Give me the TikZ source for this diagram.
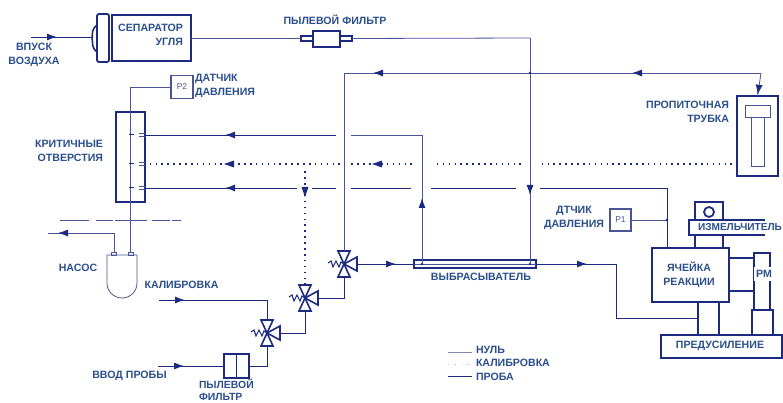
\documentclass[tikz,border=0pt]{standalone}
\usepackage{fontspec}
\setmainfont[BoldFont={Liberation Sans Bold}]{Liberation Sans}
\usetikzlibrary{arrows.meta,decorations.markings}
\definecolor{ink}{HTML}{1C2A80}
\definecolor{nullc}{HTML}{4A5496}
\definecolor{txt}{HTML}{2A4F8C}
\tikzset{
  lab/.style={font=\fontsize{10.6}{14}\selectfont\bfseries,text=txt,inner sep=0pt,outer sep=0pt},
  box/.style={draw=ink,line width=1.8pt,inner sep=0pt,outer sep=0pt},
  thinbox/.style={draw=nullc,line width=1pt,inner sep=0pt,outer sep=0pt},
  nullln/.style={draw=nullc,line width=.8pt},
  probe/.style={draw=ink,line width=.95pt},
  dotln/.style={draw=ink,line width=1.6pt,dash pattern=on 1.6pt off 4.3pt},
  tip/.style={postaction={decorate,decoration={markings,mark=at position #1 with {\arrow[ink]{Latex[length=10pt,width=7pt]}}}}}
}
\newcommand{\vlv}[3]{%
  \coordinate (#1) at (#2,#3);
  \coordinate (#1t) at (#2,#3-13);
  \coordinate (#1b) at (#2,#3+13);
  \coordinate (#1r) at (#2+13,#3);
  \draw[ink,line width=1.6pt,line join=miter] (#1) -- (#2-6,#3-13) -- (#2+6,#3-13) -- cycle;
  \draw[ink,line width=1.6pt] (#1) -- (#2-6,#3+13) -- (#2+6,#3+13) -- cycle;
  \draw[ink,line width=1.6pt] (#1) -- (#2+13,#3-7) -- (#2+13,#3+7) -- cycle;
  \draw[ink,line width=1.1pt] (#2-16,#3-1) -- (#2-13,#3-3) -- (#2-11,#3+3) -- (#2-8,#3-3) -- (#2-5,#3+3) -- (#2-3,#3-2) -- (#1);
}
\begin{document}
\begin{tikzpicture}[x=1pt,y=-1pt]
\useasboundingbox (0,0) rectangle (783,403);
% separator
\node[box,minimum width=79pt,minimum height=46pt] (sep) at (151.5,38) {};
\node[box,rounded corners=2pt,minimum width=12pt,minimum height=48pt] (flange) at (103,38) {};
\draw[ink,line width=1.6pt,rounded corners=2pt] (97,25) -- (93,29) -- (92,37) -- (93,48) -- (97,52);
\coordinate (air) at (31,37);
\coordinate (sepin) at (92,37);
\draw[probe,tip=26pt] (air) -- (sepin);
\node[lab,align=center] (airlab) at (34,55) {ВПУСК\\ВОЗДУХА};
\node[lab,align=right,anchor=east] (seplab) at (183,35) {СЕПАРАТОР\\УГЛЯ};
% filter top
\node[box,line width=1.4pt,minimum width=51pt,minimum height=5pt] (ftube) at (326.5,38.5) {};
\node[box,line width=1.4pt,fill=white,minimum width=27pt,minimum height=16pt] (fbody) at (326.5,39) {};
\node[lab] (ftoplab) at (335,20) {ПЫЛЕВОЙ ФИЛЬТР};
\coordinate (v530t) at (530,38);
% ejector
\node[box,line width=1.5pt,minimum width=122pt,minimum height=8pt] (ej) at (475,264) {};
\draw[nullc,line width=.7pt] (ej.west) -- (ej.east);
\node[lab] (ejlab) at (481,277) {ВЫБРАСЫВАТЕЛЬ};
\coordinate (ej422) at (422,264);
\coordinate (ej530) at (530,264);
\fill[ink] (ej422) circle (1.3) (ej530) circle (1.3);
\draw[nullln] (ftube.east) -- (v530t);
\draw[nullln] (sep.east |- ftube) -- (ftube.west);
\draw[nullln,tip=157pt] (v530t) -- (ej530);
% critical
\node[box,line width=1.5pt,minimum width=29pt,minimum height=90pt] (crit) at (130.5,157) {};
\node[lab,align=right,anchor=east] (critlab) at (103,151) {КРИТИЧНЫЕ\\ОТВЕРСТИЯ};
\node[thinbox,line width=1.5pt,minimum width=22pt,minimum height=23pt,font=\fontsize{8.5}{10}\selectfont,text=nullc] (p2) at (182,87) {P2};
\node[lab,align=left,anchor=west] (p2lab) at (195,86) {ДАТЧИК\\ДАВЛЕНИЯ};
% pump
\draw[nullc,line width=.8pt] (107,255) -- (137,255) -- (137,283) arc[start angle=0,end angle=180,radius=15] -- cycle;
\node[thinbox,line width=.8pt,minimum width=5pt,minimum height=3pt] (port1) at (114,253.5) {};
\node[thinbox,line width=.8pt,minimum width=5pt,minimum height=3pt] (port2) at (130.5,253.5) {};
\node[lab] (pumplab) at (78,268) {НАСОС};
\coordinate (c87) at (130.5,87);
\draw[nullln] (p2.west) -- (c87) -- (port2.north);
\coordinate (exh) at (48,233);
\coordinate (pcorner) at (114,233);
\draw[nullln,tip=75pt] (port1.north) -- (pcorner) -- (exh);
\draw[nullc,line width=.8pt,dash pattern=on 29pt off 7pt on 17pt off 2pt on 32pt off 5pt on 18pt off 2pt on 9pt off 100pt] (60,220) -- (181,220);
% orifice ticks
\foreach \yy in {135,164,188}{
  \draw[ink,line width=1pt] (129,\yy) -- (134,\yy);
  \draw[nullc,line width=.7pt] (139,\yy-1.2) -- (145,\yy-1.2) (139,\yy+1.2) -- (145,\yy+1.2);
}
% valves
\vlv{va}{267}{333}
\vlv{vb}{305}{298}
\vlv{vc}{344}{264}
\node[lab] (callab) at (181.5,285) {КАЛИБРОВКА};
\coordinate (calin) at (159,300);
\coordinate (calc) at (267,300);
\draw[probe,tip=26pt] (calin) -- (calc) -- (vat);
\node[lab] (samplab) at (129.5,376) {ВВОД ПРОБЫ};
\node[lab,font=\fontsize{10.4}{12}\selectfont\bfseries,align=left,anchor=north west] (pf2lab) at (199,379.5) {ПЫЛЕВОЙ\\ФИЛЬТР};
\node[box,minimum width=25pt,minimum height=24pt] (pf) at (236.5,366) {};
\draw[ink,line width=1.4pt] (pf.north) -- (pf.south);
\coordinate (sampin) at (158,366);
\coordinate (sampc) at (267,366);
\draw[probe,tip=26pt] (sampin) -- (pf.west);
\draw[probe] (pf.east) -- (sampc) -- (vab);
\coordinate (ab) at (305,333);
\draw[probe] (var) -- (ab) -- (vbb);
\coordinate (bc) at (344,298);
\draw[probe] (vbr) -- (bc) -- (vcb);
\draw[probe,tip=39pt] (vcr) -- (ej.west);
% vertical null from valve c to the top line
\coordinate (top344) at (344,73);
\coordinate (top761) at (761,73);
% impregnation tube
\node[box,minimum width=41pt,minimum height=80pt] (imp) at (757.5,136) {};
\node[thinbox,minimum width=13pt,minimum height=49pt] (impstem) at (757.5,142.5) {};
\node[thinbox,fill=white,minimum width=25pt,minimum height=12pt] (impcap) at (757.5,112) {};
\node[lab,align=right,anchor=east] (implab) at (729,112) {ПРОПИТОЧНАЯ\\ТРУБКА};
\draw[nullln] (vct) -- (top344);
\draw[nullln,tip=129pt,tip=388pt] (top761) -- (top344);
\draw[nullln,tip=22pt] (top761) -- (imp.north);
\coordinate (j530) at (530,73);
\fill[ink] (j530) circle (1.3);
% y=135
\coordinate (a422) at (422,135);
\coordinate (a351) at (351,135);
\coordinate (a336) at (336,135);
\draw[nullln,tip=66pt] (ej422) -- (a422) -- (a351);
\draw[probe,tip=111pt] (a336) -- (crit.east |- a336);
% y=164 dotted
\coordinate (d732) at (732,164);
\coordinate (d541) at (541,164);
\coordinate (d521) at (521,164);
\coordinate (d435) at (435,164);
\coordinate (d412) at (412,164);
\coordinate (d351) at (351,164);
\coordinate (d340) at (340,164);
\coordinate (d150) at (150,164);
\draw[dotln] (d732) -- (d541);
\draw[dotln] (d521) -- (d435);
\draw[dotln] (d412) -- (d351);
\draw[dotln] (d340) -- (d150);
\fill[ink] (224,164) -- (234,160.5) -- (234,167.5) -- cycle;
\fill[ink] (372,164) -- (382,160.5) -- (382,167.5) -- cycle;
% y=188
\coordinate (s667) at (667,188);
\coordinate (s540) at (540,188);
\coordinate (s516) at (516,188);
\coordinate (s431) at (431,188);
\coordinate (s411) at (411,188);
\coordinate (s351) at (351,188);
\coordinate (s336) at (336,188);
\coordinate (s312) at (312,188);
\coordinate (s297) at (297,188);
\node[box,minimum width=77pt,minimum height=54pt] (cell) at (690.5,275) {};
\draw[probe] (cell.north -| s667) -- (s667) -- (s540);
\draw[probe] (s516) -- (s431);
\draw[probe] (s411) -- (s351);
\draw[probe] (s336) -- (s312);
\draw[probe,tip=72pt] (s297) -- (crit.east |- s297);
% dotted branch
\coordinate (dv1) at (305,168);
\draw[dotln] (vbt) -- (dv1);
\fill[ink] (305,197) -- (301.5,187) -- (308.5,187) -- cycle;
% P1
\node[thinbox,line width=1.5pt,minimum width=21pt,minimum height=22pt,font=\fontsize{8.5}{10}\selectfont,text=nullc] (p1) at (620.5,220) {P1};
\node[lab,align=center,anchor=east] (p1lab) at (604,218) {ДТЧИК\\ДАВЛЕНИЯ};
\coordinate (j667) at (667,220);
\draw[nullln] (p1.east) -- (j667);
\fill[ink] (j667) circle (1.3);
% outlet to preamp
\coordinate (o616a) at (616,264);
\coordinate (o616b) at (616,318);
\coordinate (o698) at (698,318);
\draw[probe,tip=51pt] (ej.east) -- (o616a) -- (o616b) -- (o698);
% chopper
\node[box,minimum width=28pt,minimum height=20pt] (chtop) at (709,212) {};
\node[draw=ink,line width=1.8pt,circle,minimum size=10pt,inner sep=0pt] (chcirc) at (709,212) {};
\coordinate (ch1) at (765,220);
\coordinate (ch2) at (689,220);
\coordinate (ch3) at (689,235);
\coordinate (ch4) at (765,235);
\draw[box,fill=white] (ch1) -- (ch2) -- (ch3) -- (ch4);
\node[lab,font=\fontsize{10.1}{12}\selectfont\bfseries,anchor=west] (chlab) at (698,227.5) {ИЗМЕЛЬЧИТЕЛЬ};
\coordinate (st1a) at (695,235);
\coordinate (st1b) at (695,248);
\coordinate (st2a) at (723,235);
\coordinate (st2b) at (723,248);
\draw[box] (st1a) -- (st1b) (st2a) -- (st2b);
% reaction cell
\node[lab,align=center] (celllab) at (689,275) {ЯЧЕЙКА\\РЕАКЦИИ};
% PM
\coordinate (pm1) at (754,310);
\coordinate (pm2) at (754,253);
\coordinate (pm3) at (770,253);
\coordinate (pm4) at (770,310);
\draw[box] (pm1) -- (pm2) -- (pm3) -- (pm4);
\node[fill=white,lab,minimum width=20pt,minimum height=14pt] (pmlab) at (764,274) {РМ};
\node[box,minimum width=21pt,minimum height=25pt] (pmb) at (762.5,322.5) {};
\coordinate (pc1) at (729,258);
\coordinate (pc2) at (754,258);
\coordinate (pc3) at (729,291);
\coordinate (pc4) at (754,291);
\draw[box] (pc1) -- (pc2) (pc3) -- (pc4);
% preamp
\node[box,minimum width=121pt,minimum height=23pt,anchor=west] (pre) at (661,346.5) {};
\node[lab] (prelab) at (720,346) {ПРЕДУСИЛЕНИЕ};
\coordinate (s1a) at (698,302);
\coordinate (s1b) at (698,335);
\coordinate (s2a) at (719,302);
\coordinate (s2b) at (719,335);
\draw[box] (s1a) -- (s1b) (s2a) -- (s2b);
% legend
\coordinate (l1a) at (448,352);
\coordinate (l1b) at (472,352);
\coordinate (l2a) at (448,364);
\coordinate (l2b) at (472,364);
\coordinate (l3a) at (448,376);
\coordinate (l3b) at (472,376);
\draw[draw=nullc!70,line width=.9pt] (l1a) -- (l1b);
\draw[draw=ink!25,line width=1pt,dash pattern=on 1.4pt off 5pt] (l2a) -- (l2b);
\draw[probe] (l3a) -- (l3b);
\node[lab,anchor=west] (lg1) at (476,349.5) {НУЛЬ};
\node[lab,anchor=west] (lg2) at (476,363) {КАЛИБРОВКА};
\node[lab,anchor=west] (lg3) at (476,377) {ПРОБА};
\end{tikzpicture}
\end{document}
